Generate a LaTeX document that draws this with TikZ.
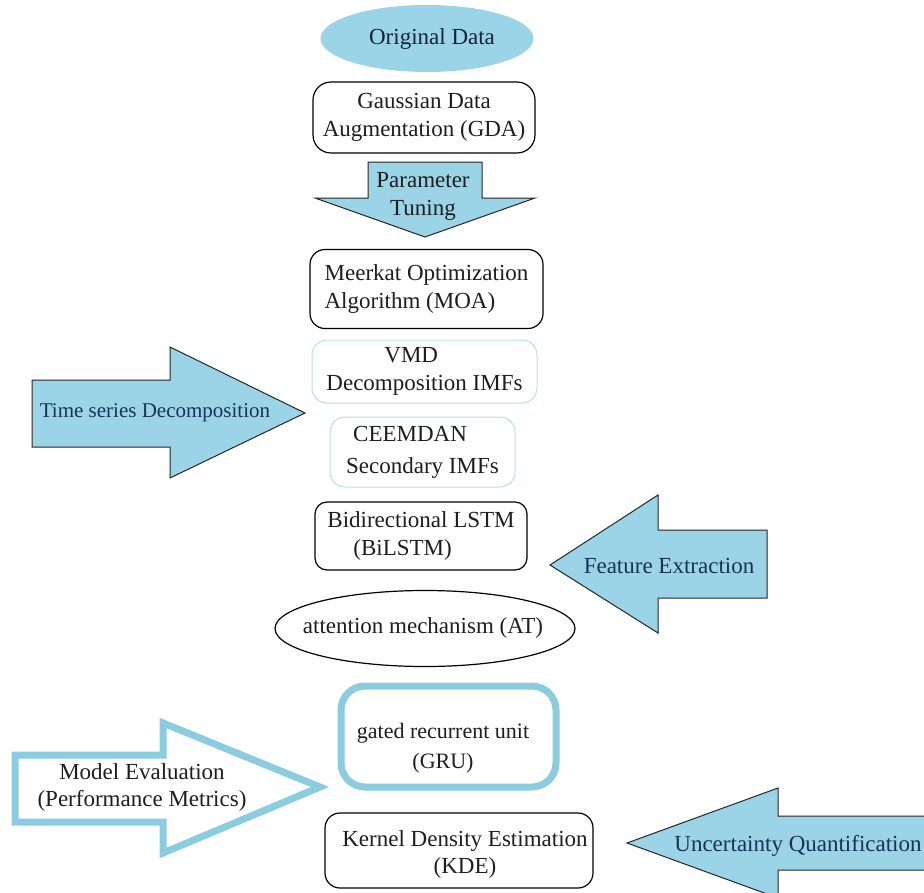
\documentclass[tikz,border=0pt]{standalone}
\usepackage{fontspec}
\setmainfont{Liberation Serif}
\usetikzlibrary{shapes.geometric}
\definecolor{lblue}{RGB}{155,212,230}
\definecolor{bstroke}{RGB}{140,204,224}
\definecolor{pale}{RGB}{185,222,234}
\definecolor{navy}{RGB}{25,50,85}
\definecolor{ink}{RGB}{30,30,30}
\begin{document}
\begin{tikzpicture}[x=1pt,y=-1pt,
  txt/.style={font=\fontsize{23}{28}\selectfont, text=ink},
  box/.style={txt, draw=black, line width=1.2pt, rounded corners=15pt, align=center, inner sep=0pt},
  palebox/.style={box, draw=pale, line width=1pt},
  gbox/.style={box, draw=bstroke, line width=7pt, rounded corners=24pt},
  plain/.style={txt, align=center, inner sep=0pt},
  arrowfill/.style={fill=lblue, draw=black!85, line width=1pt, line join=miter},
  openarrow/.style={fill=white, draw=bstroke, line width=7pt, line join=miter},
  arrowtext/.style={txt, text=navy, align=center, inner sep=0pt}]
\clip (0,0) rectangle (924,892);
\fill[white] (0,0) rectangle (924,892);

% top ellipse
\node[ellipse, fill=lblue, minimum width=213pt, minimum height=67pt, inner sep=0pt] (orig) at (427,38.5) {};
\node[plain, text=navy!70!black] (origt) at (432,38.5) {Original Data};

% boxes
\node[box, minimum width=222pt, minimum height=71pt, rounded corners=18pt] (gda) at (424,117.5) {Gaussian Data\\Augmentation (GDA)};

\draw[arrowfill] (368,162) -- (482,162) -- (482,198) -- (535,198) -- (425,237) -- (315,198) -- (368,198) -- cycle;
\node[arrowtext, text=ink] (ptune) at (423,196) {Parameter\\Tuning};

\node[box, minimum width=233pt, minimum height=79pt, align=left] (moa) at (426.5,289) {Meerkat Optimization\\Algorithm (MOA)};
\node[palebox, minimum width=225pt, minimum height=63pt, align=left] (vmd) at (424.5,371.5) {\hspace*{58pt}VMD\\Decomposition IMFs};
\node[palebox, minimum width=185pt, minimum height=70pt, align=left, font=\fontsize{23}{32}\selectfont] (ceem) at (422.5,452) {\hspace*{7pt}CEEMDAN\\Secondary IMFs};
\node[box, minimum width=212pt, minimum height=68pt, rounded corners=12pt, align=left] (bilstm) at (421,536) {Bidirectional LSTM\\\hspace*{26pt}(BiLSTM)};

\node[ellipse, draw=black, line width=1.2pt, minimum width=300pt, minimum height=76pt, inner sep=0pt] (att) at (425,628.5) {};
\node[plain] (attt) at (423,628) {attention mechanism (AT)};

\node[gbox, minimum width=215pt, minimum height=101pt] (gru) at (448.5,736.5) {};
\node[plain, font=\fontsize{22}{30}\selectfont] (grut) at (443,748) {gated recurrent unit\\(GRU)};

\node[box, minimum width=268pt, minimum height=75pt] (kde) at (459,850.5) {};
\node[plain, font=\fontsize{23}{27}\selectfont] (kdet) at (465,854) {Kernel Density Estimation\\(KDE)};

% side arrows
\draw[arrowfill] (32,380) -- (170,380) -- (170,347) -- (305,413) -- (170,478) -- (170,447) -- (32,447) -- cycle;
\node[arrowtext, font=\fontsize{21}{26}\selectfont] (tsd) at (155,413) {Time series Decomposition};

\draw[arrowfill] (550,565) -- (658,495) -- (658,530) -- (767,530) -- (767,598) -- (658,598) -- (658,633) -- cycle;
\node[arrowtext] (fe) at (669,566) {Feature Extraction};

\draw[openarrow] (15,755) -- (163,755) -- (163,723) -- (320,787) -- (163,853) -- (163,822) -- (15,822) -- cycle;
\node[arrowtext, text=ink, font=\fontsize{23}{27}\selectfont] (me) at (142,787) {Model Evaluation\\(Performance Metrics)};

\draw[arrowfill] (627,843) -- (778,788) -- (778,816) -- (940,816) -- (940,870) -- (778,870) -- (778,898) -- cycle;
\node[arrowtext] (uq) at (798,846) {Uncertainty Quantification};
\end{tikzpicture}
\end{document}
